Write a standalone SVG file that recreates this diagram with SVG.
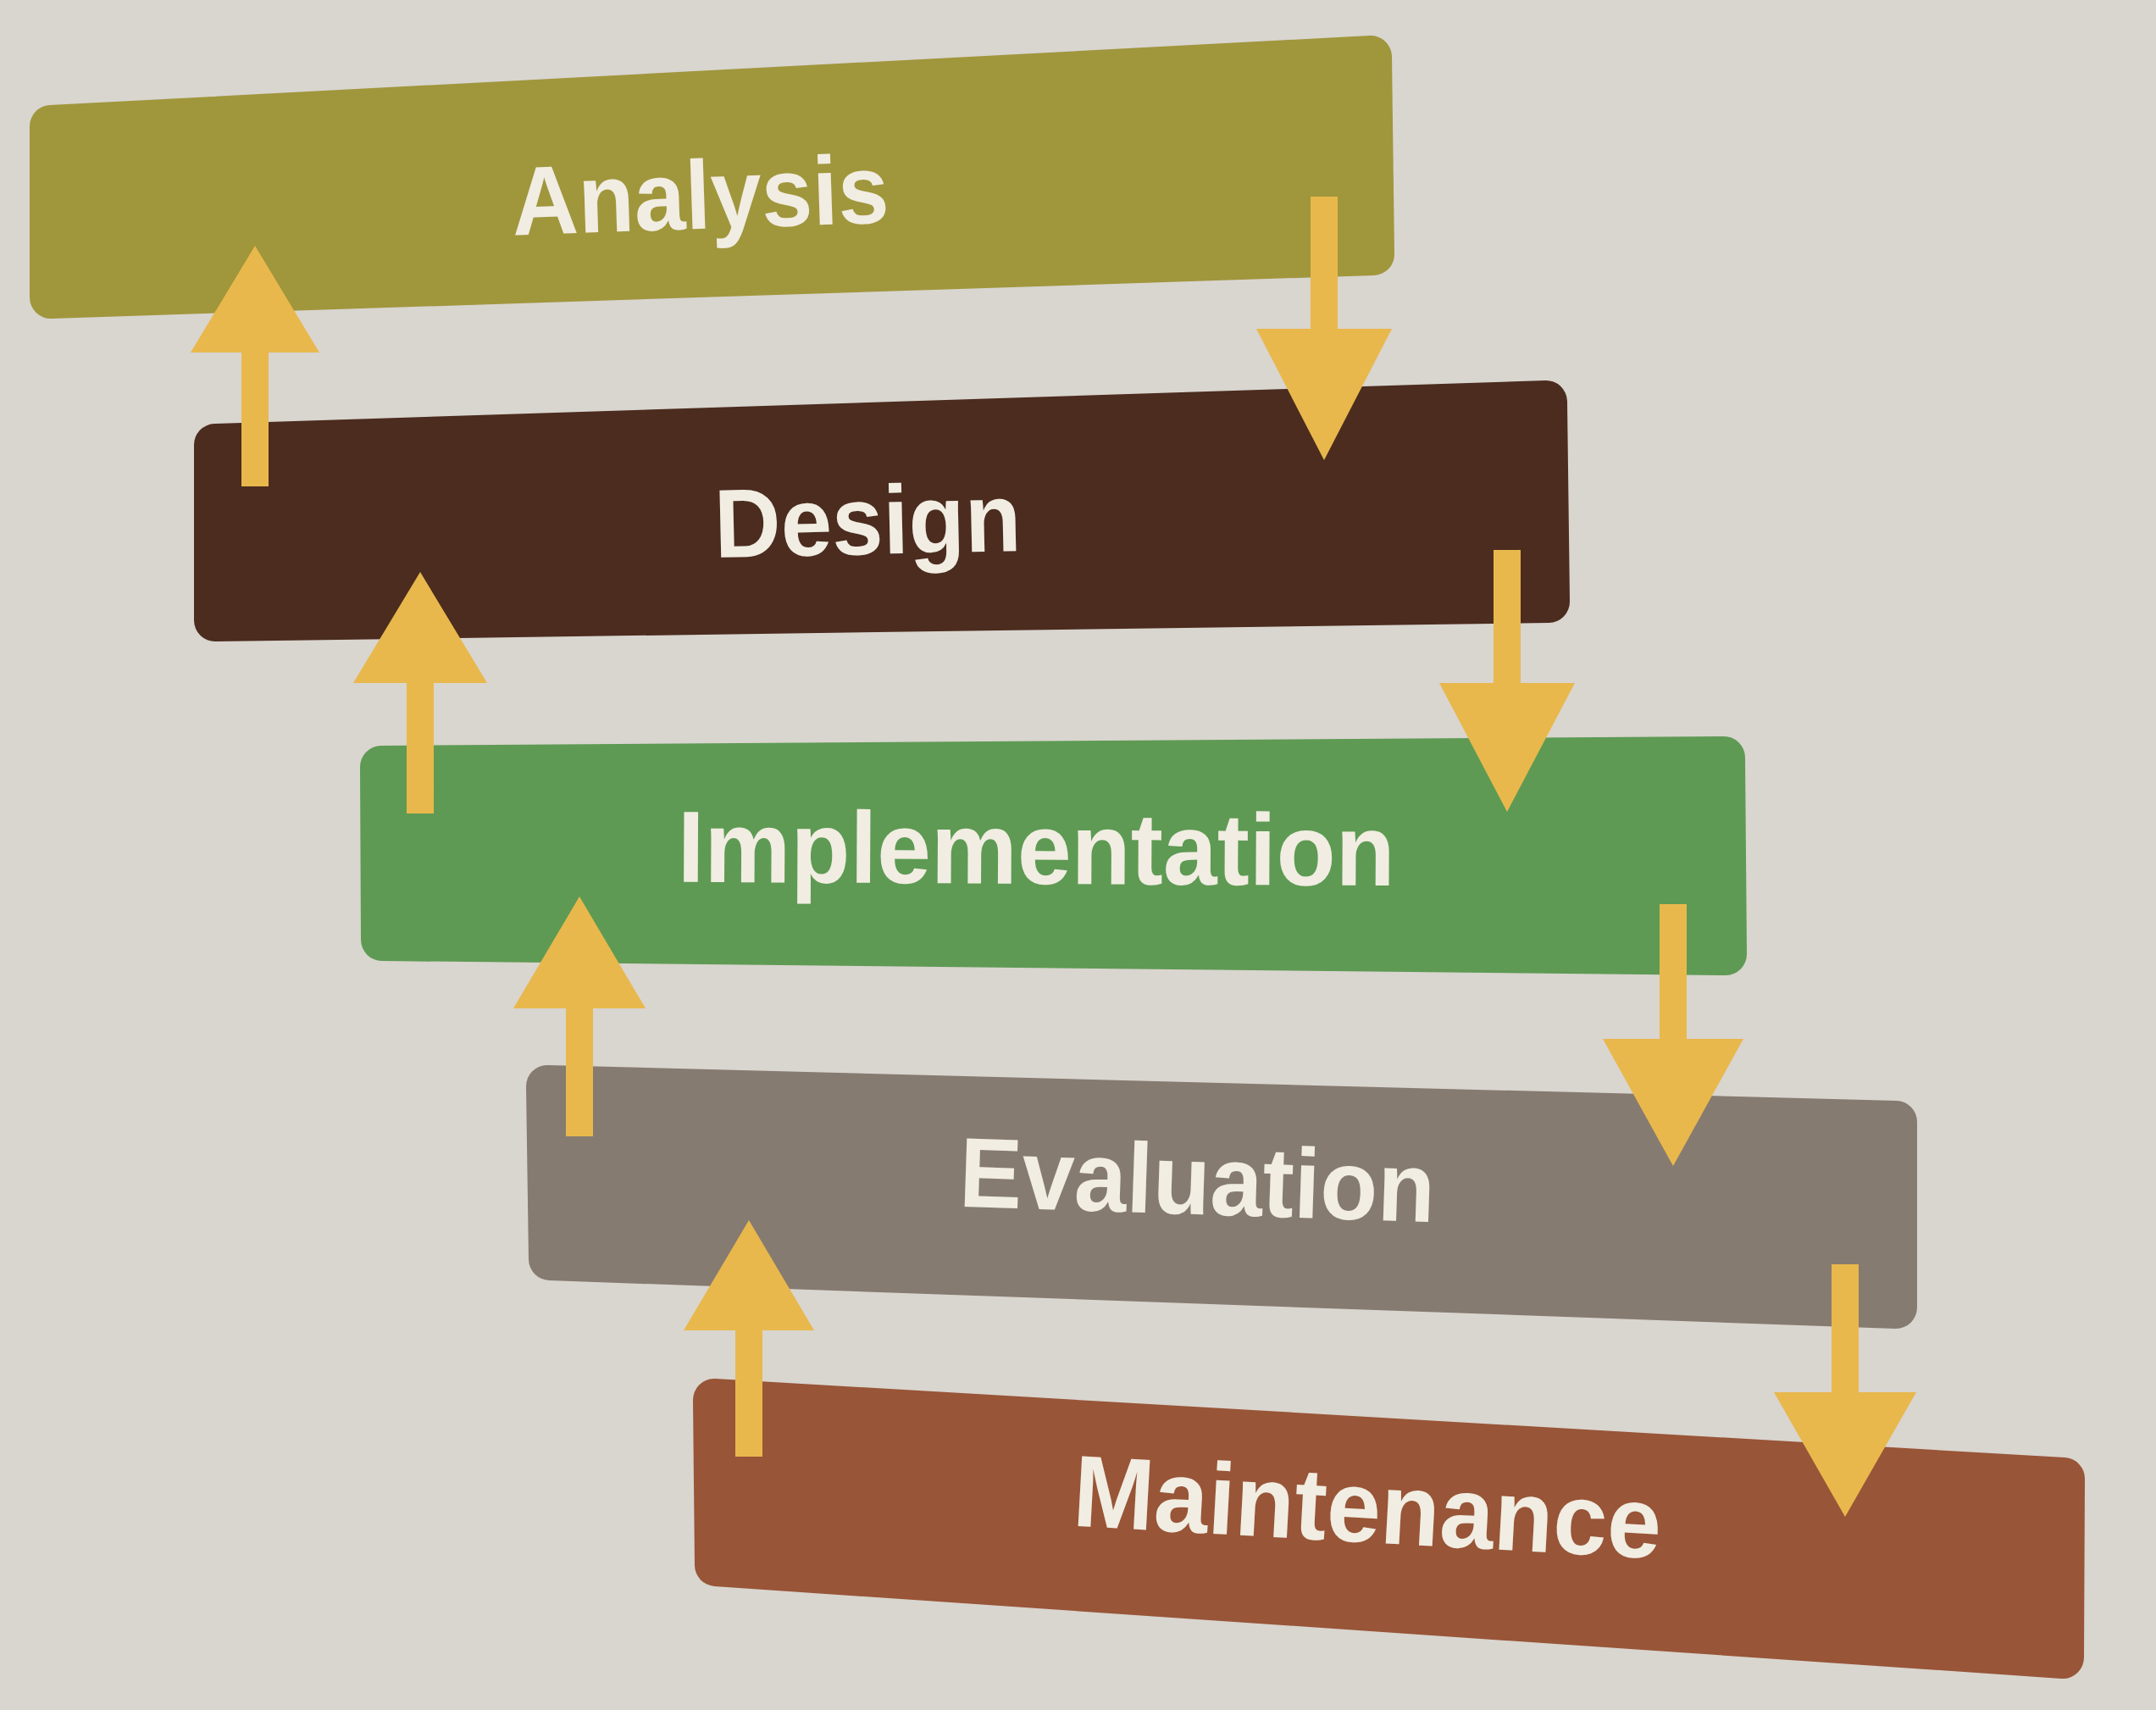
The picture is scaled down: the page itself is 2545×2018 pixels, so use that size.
<svg xmlns="http://www.w3.org/2000/svg" width="2545" height="2018" viewBox="0 0 2545 2018">
  <style>
    .box { stroke-width: 50; stroke-linejoin: round; }
    .lbl { font-family: "Liberation Sans", Arial, sans-serif; font-weight: bold; fill: #f1ede2; text-anchor: middle; }
    .arrow { fill: #e9b84c; }
  </style>
  <rect x="0" y="0" width="2545" height="2018" fill="#d9d5cf"/>
  <g id="analysis">
    <polygon class="box" fill="#a0963c" stroke="#a0963c" points="60,149 1618,67 1621,300 60,351"/>
    <text class="lbl" x="828" y="270" font-size="115" textLength="445" lengthAdjust="spacingAndGlyphs" transform="rotate(-1.9 828 270)">Analysis</text>
  </g>
  <g id="design">
    <polygon class="box" fill="#4b2c1e" stroke="#4b2c1e" points="254,525 1825,474 1828,710 254,732"/>
    <text class="lbl" x="1025" y="654" font-size="115" textLength="362" lengthAdjust="spacingAndGlyphs" transform="rotate(-1.3 1025 654)">Design</text>
  </g>
  <g id="implementation">
    <polygon class="box" fill="#5e9a53" stroke="#5e9a53" points="450,905 2035,894 2037,1126 451,1109"/>
    <text class="lbl" x="1223" y="1043" font-size="120" textLength="847" lengthAdjust="spacingAndGlyphs" transform="rotate(0.3 1223 1043)">Implementation</text>
  </g>
  <g id="evaluation">
    <polygon class="box" fill="#867b71" stroke="#867b71" points="646,1282 2238,1324 2238,1543 649,1486"/>
    <text class="lbl" x="1412" y="1433" font-size="117" textLength="562" lengthAdjust="spacingAndGlyphs" transform="rotate(1.9 1412 1433)">Evaluation</text>
  </g>
  <g id="maintenance">
    <polygon class="box" fill="#985537" stroke="#985537" points="843,1652 2436,1745 2435,1956 845,1847"/>
    <text class="lbl" x="1612" y="1820" font-size="120" textLength="695" lengthAdjust="spacingAndGlyphs" transform="rotate(3.2 1612 1820)">Maintenance</text>
  </g>
  <g id="connectors">
    <path class="arrow" d="M285,574 L285,416 L225,416 L301,290 L377,416 L317,416 L317,574 Z"/>
    <path class="arrow" d="M480,960 L480,806 L417,806 L496,675 L575,806 L512,806 L512,960 Z"/>
    <path class="arrow" d="M668,1341 L668,1190 L606,1190 L684,1058 L762,1190 L700,1190 L700,1341 Z"/>
    <path class="arrow" d="M868,1719 L868,1570 L807,1570 L884,1440 L961,1570 L900,1570 L900,1719 Z"/>
    <path class="arrow" d="M1547,232 L1579,232 L1579,388 L1643,388 L1563,543 L1483,388 L1547,388 Z"/>
    <path class="arrow" d="M1763,649 L1795,649 L1795,806 L1859,806 L1779,958 L1699,806 L1763,806 Z"/>
    <path class="arrow" d="M1959,1067 L1991,1067 L1991,1226 L2058,1226 L1975,1376 L1892,1226 L1959,1226 Z"/>
    <path class="arrow" d="M2162,1492 L2194,1492 L2194,1643 L2262,1643 L2178,1790 L2094,1643 L2162,1643 Z"/>
  </g>
</svg>
